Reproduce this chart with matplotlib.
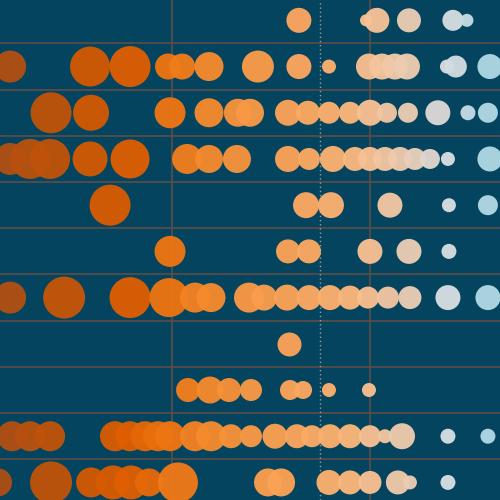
import numpy as np
import matplotlib
matplotlib.use("Agg")
import matplotlib.pyplot as plt
from matplotlib.colors import LinearSegmentedColormap

# score of each bubble per row (0 and 100 are the solid reference lines, 75 the dotted one)
scores = [
    [64.1, 98.0, 103.5, 119.7, 141.9, 149.0],
    [-81.8, -41.4, -21.2, -2.0, 5.1, 18.7, 43.4, 64.1, 79.3, 99.5, 106.1, 112.6, 118.7, 138.9, 143.4, 160.6],
    [-61.1, -40.9, -1.0, 18.7, 33.3, 39.4, 58.6, 68.7, 79.3, 89.9, 100.0, 108.6, 119.2, 134.3, 149.5, 159.6],
    [-81.8, -71.7, -61.6, -41.4, -21.2, 7.6, 18.7, 32.8, 58.6, 69.2, 81.3, 92.4, 100.0, 107.6, 115.2, 122.7, 130.3, 139.4, 160.6],
    [-31.3, 67.7, 80.3, 110.1, 139.9, 159.6],
    [-1.0, 58.6, 69.2, 100.0, 119.7, 139.9],
    [-81.8, -54.5, -21.2, -1.5, 11.6, 19.7, 38.9, 46.5, 58.1, 69.2, 79.8, 89.9, 99.0, 109.1, 120.2, 139.4, 159.6],
    [59.1],
    [8.1, 19.2, 28.8, 39.9, 59.6, 66.2, 79.3, 99.5],
    [-80.8, -71.7, -61.6, -28.8, -21.2, -13.6, -7.1, -1.0, 11.6, 19.7, 29.8, 39.9, 52.0, 63.1, 70.7, 79.8, 89.9, 100.0, 107.6, 116.2, 139.4, 159.6],
    [-87.9, -61.1, -40.9, -29.8, -20.7, -11.6, 3.0, 48.5, 55.1, 79.3, 89.9, 100.0, 114.1, 120.2, 139.4],
]

# bubble weight (radius-like value) per row
weights = [
    [12.5, 6, 12.5, 12, 10.5, 6.5],
    [16, 20, 20.5, 13, 13, 14.5, 16, 12.5, 7, 13, 13, 13, 13, 7, 11, 12.5],
    [20.5, 18, 15.5, 14.5, 14, 14, 13, 12, 11, 11, 13, 10, 10, 12.5, 7.5, 10],
    [16, 20, 20, 17.5, 19.5, 15, 14, 14, 13, 11, 13, 12, 12, 12, 12, 11, 10, 7, 12.5],
    [20.5, 13, 13, 12.5, 7, 10],
    [15.5, 12, 12, 12.5, 12.5, 7.5],
    [16, 21, 20.5, 19.5, 15, 14.5, 15, 13, 13, 12.5, 12.5, 12, 11, 11, 11.5, 12.5, 12.5],
    [12],
    [12, 13.5, 12, 11, 10, 9, 7, 7],
    [15, 15, 15, 15, 15, 15, 15, 15, 15, 15, 12, 11, 12.5, 12, 11, 12, 12, 11, 7, 13, 7.5, 7.5],
    [14, 21, 15, 17, 17, 14, 20, 14, 14, 12.5, 12, 11.5, 12, 7, 7.5],
]

cmap = LinearSegmentedColormap.from_list("orange_blue", [
    (0.00, "#ad4e14"),
    (0.10, "#c0530a"),
    (0.18, "#d15803"),
    (0.26, "#de5e00"),
    (0.34, "#ee7612"),
    (0.42, "#f68a2c"),
    (0.52, "#fa9c4a"),
    (0.60, "#fda75e"),
    (0.70, "#fcb77a"),
    (0.74, "#f9c192"),
    (0.82, "#eccdb4"),
    (0.90, "#d8dee2"),
    (1.00, "#a6d7e5"),
])

xmin, xmax = -86.9, 165.7
bg = "#05445f"

fig = plt.figure(figsize=(5, 5), dpi=100, facecolor=bg)
ax = fig.add_axes([0, 0, 1, 1])
ax.set_facecolor(bg)

for i in range(len(scores) - 1):
    ax.axhline(i + 0.5, color="#5f4d47", linewidth=1.2, zorder=1)
ax.axvline(0, color="#5f4d47", linewidth=1.2, zorder=1)
ax.axvline(100, color="#5f4d47", linewidth=1.2, zorder=1)
ax.axvline(75, color="#9a9a9a", linewidth=1.0, linestyle=(0, (1, 2)), zorder=1)

for row, (xs, ws) in enumerate(zip(scores, weights)):
    xs = np.array(xs)
    ws = np.array(ws)
    ax.scatter(xs, np.full(len(xs), row), s=2.07 * ws ** 2,
               c=(xs - xmin) / (xmax - xmin), cmap=cmap, vmin=0, vmax=1,
               alpha=0.96, linewidths=0, zorder=2)

ax.set_xlim(xmin, xmax)
ax.set_ylim(10.38, -0.44)
ax.set_xticks([])
ax.set_yticks([])
for s in ax.spines.values():
    s.set_visible(False)

fig.savefig("out.png", dpi=100, facecolor=bg)
